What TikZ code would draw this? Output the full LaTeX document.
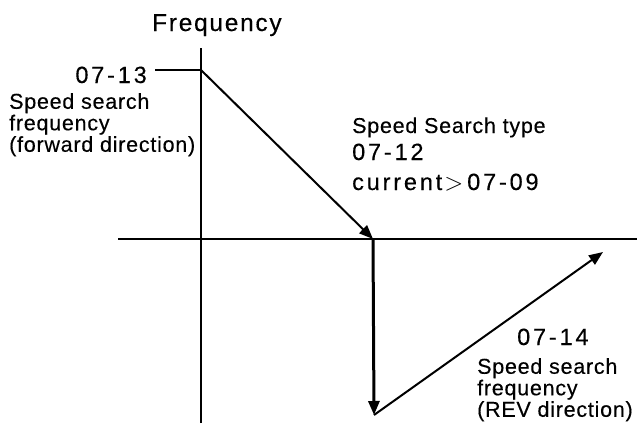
\documentclass[tikz,border=0pt]{standalone}
\usepackage{fontspec}
\setmainfont{Liberation Sans}[FakeBold=0.3]
\usetikzlibrary{arrows.meta, positioning}

\begin{document}
\begin{tikzpicture}[x=1pt, y=-1pt, >={Triangle[length=14pt,width=11pt]},
  lbl/.style={inner sep=0pt, align=left, font=\fontsize{21.5}{21.5}\selectfont\addfontfeature{LetterSpace=3.5}},
  num/.style={inner sep=0pt, font=\fontsize{23.5}{24}\selectfont\addfontfeature{LetterSpace=12}},
  freq/.style={inner sep=0pt, font=\fontsize{24.5}{26}\selectfont\addfontfeature{LetterSpace=7}},
  axis/.style={line width=2.4pt}]
  \useasboundingbox (0,0) rectangle (637,423);

  % axes
  \coordinate (yb) at (201,423);
  \coordinate (yt) at (201,48);
  \coordinate (xl) at (118,239);
  \coordinate (xr) at (637,239);
  \draw[axis] (yb) -- (yt);
  \draw[axis] (xl) -- (xr);

  % frequency curve
  \coordinate (tk) at (155,70);
  \coordinate (f13) at (201,70);
  \coordinate (zc) at (373,239);
  \coordinate (rmin) at (374,415);
  \coordinate (f14) at (603,252);
  \draw[line width=2pt] (tk) -- (f13);
  \draw[->, line width=2pt] (f13) -- (zc);
  \draw[->, line width=3pt] (zc) -- (rmin);
  \draw[->, line width=2pt] (rmin) -- (f14);

  % labels
  \node[freq, anchor=base west] (ttl) at (152,31) {Frequency};
  \node[num, anchor=base east] (n13) at (147,83) {07-13};
  \node[lbl, anchor=north west] (fwd) at (9,93) {Speed search\\frequency\\(forward direction)};
  \node[lbl, anchor=base west] (typ) at (352,133) {Speed Search type};
  \node[num, anchor=base west] (n12) at (352,160) {07-12};
  \node[num, anchor=base west] (cur) at (352,190) {current\hspace{2pt}$>$\hspace{4pt}07-09};
  \node[num, anchor=base west] (n14) at (517,345) {07-14};
  \node[lbl, anchor=north west] (rev) at (477,358) {Speed search\\frequency\\(REV direction)};
\end{tikzpicture}
\end{document}
